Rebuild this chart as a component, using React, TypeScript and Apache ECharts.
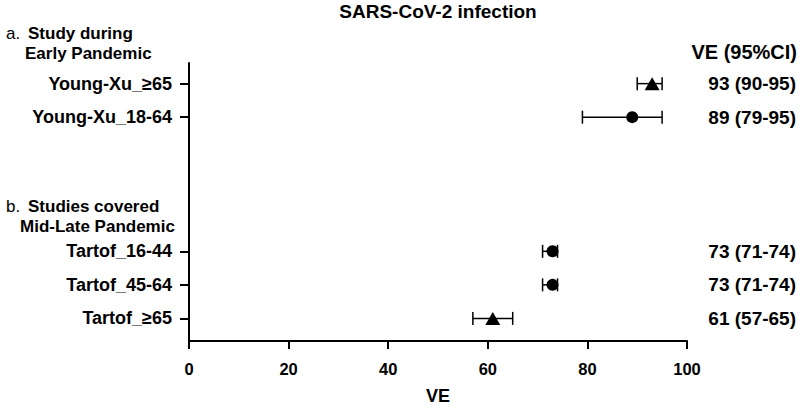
import React, { useEffect, useRef } from "react";
import * as echarts from "echarts";

const rowNames = ["Young-Xu_≥65", "Young-Xu_18-64", "Tartof_16-44", "Tartof_45-64", "Tartof_≥65"];
const rowIndex = [0, 1, 5, 6, 7];
const veValues = [93, 89, 73, 73, 61];
const ciLow = [90, 79, 71, 71, 57];
const ciHigh = [95, 95, 74, 74, 65];
const markerShapes = ["triangle", "circle", "circle", "circle", "triangle"];
const xTicks = [0, 20, 40, 60, 80, 100];

const FONT = "'Liberation Sans', Arial, sans-serif";

export default function App() {
  const ref = useRef<HTMLDivElement>(null);
  useEffect(() => {
    document.body.style.margin = "0";
    if (!ref.current) return;
    const chart = echarts.init(ref.current, null, { renderer: "svg" });
    const leftLabel = (v: number) => {
      const i = rowIndex.indexOf(Math.round(v));
      return i >= 0 ? rowNames[i] : "";
    };
    const rightLabel = (v: number) => {
      const i = rowIndex.indexOf(Math.round(v));
      return i >= 0 ? `${veValues[i]} (${ciLow[i]}-${ciHigh[i]})` : "";
    };
    const textStyleBase = { fontFamily: FONT, fontWeight: "bold" as const, fontSize: 17, fill: "#000" };
    chart.setOption({
      animation: false,
      textStyle: { fontFamily: FONT },
      grid: { left: 189, right: 113, top: 63, bottom: 64 },
      xAxis: {
        type: "value",
        min: 0,
        max: 100,
        interval: 20,
        name: "VE",
        nameLocation: "middle",
        nameGap: 46,
        nameTextStyle: { fontFamily: FONT, fontWeight: "bold", fontSize: 18, color: "#000" },
        axisLine: { onZero: false, lineStyle: { color: "#000", width: 2 } },
        axisTick: { length: 8, lineStyle: { color: "#000", width: 2 } },
        axisLabel: {
          fontFamily: FONT,
          fontWeight: "bold",
          fontSize: 16.5,
          color: "#000",
          margin: 19,
          customValues: xTicks,
        },
        splitLine: { show: false },
      },
      yAxis: [
        {
          type: "value",
          inverse: true,
          min: -0.615,
          max: 7.674,
          axisLine: { show: true, onZero: false, lineStyle: { color: "#000", width: 2 } },
          axisTick: { show: true, length: 9, customValues: rowIndex, lineStyle: { color: "#000", width: 2 } },
          axisLabel: {
            customValues: rowIndex,
            formatter: leftLabel,
            fontFamily: FONT,
            fontWeight: "bold",
            fontSize: 18,
            color: "#000",
            margin: 17,
          },
          splitLine: { show: false },
        },
        {
          type: "value",
          position: "right",
          inverse: true,
          min: -0.615,
          max: 7.674,
          axisLine: { show: false },
          axisTick: { show: false },
          axisLabel: {
            customValues: rowIndex,
            formatter: rightLabel,
            fontFamily: FONT,
            fontWeight: "bold",
            fontSize: 19,
            color: "#000",
            align: "right",
            margin: 109,
          },
          splitLine: { show: false },
        },
      ],
      graphic: [
        { type: "text", x: 438, y: 11, style: { ...textStyleBase, fontSize: 19, text: "SARS-CoV-2 infection", textAlign: "center", textVerticalAlign: "middle" } },
        { type: "text", x: 6, y: 33, style: { ...textStyleBase, fontWeight: "normal", text: "a.", textVerticalAlign: "middle" } },
        { type: "text", x: 28, y: 33, style: { ...textStyleBase, text: "Study during", textVerticalAlign: "middle" } },
        { type: "text", x: 25, y: 53, style: { ...textStyleBase, text: "Early Pandemic", textVerticalAlign: "middle" } },
        { type: "text", x: 6, y: 206, style: { ...textStyleBase, fontWeight: "normal", text: "b.", textVerticalAlign: "middle" } },
        { type: "text", x: 28, y: 206, style: { ...textStyleBase, text: "Studies covered", textVerticalAlign: "middle" } },
        { type: "text", x: 20, y: 226, style: { ...textStyleBase, text: "Mid-Late Pandemic", textVerticalAlign: "middle" } },
        { type: "text", x: 797, y: 52, style: { ...textStyleBase, fontSize: 20, text: "VE (95%CI)", textAlign: "right", textVerticalAlign: "middle" } },
      ],
      series: [
        {
          type: "custom",
          data: rowIndex.map((r, i) => [ciLow[i], ciHigh[i], r]),
          renderItem: (params: any, api: any) => {
            const lo = api.coord([api.value(0), api.value(2)]);
            const hi = api.coord([api.value(1), api.value(2)]);
            const h = 6.5;
            const style = { stroke: "#000", lineWidth: 1.5 };
            return {
              type: "group",
              children: [
                { type: "line", shape: { x1: lo[0], y1: lo[1], x2: hi[0], y2: hi[1] }, style },
                { type: "line", shape: { x1: lo[0], y1: lo[1] - h, x2: lo[0], y2: lo[1] + h }, style },
                { type: "line", shape: { x1: hi[0], y1: hi[1] - h, x2: hi[0], y2: hi[1] + h }, style },
              ],
            };
          },
          z: 2,
        },
        {
          type: "scatter",
          data: rowIndex.map((r, i) => ({
            value: [veValues[i], r],
            symbol: markerShapes[i],
            symbolSize: markerShapes[i] === "triangle" ? [15, 13] : 12,
          })),
          itemStyle: { color: "#000", opacity: 1 },
          z: 3,
        },
      ],
    });
    return () => chart.dispose();
  }, []);
  return <div ref={ref} style={{ width: 800, height: 410 }} />;
}
